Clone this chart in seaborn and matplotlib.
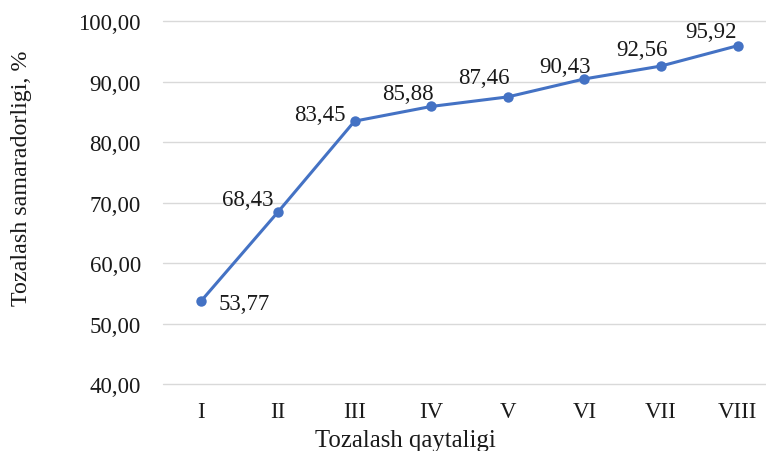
import matplotlib
matplotlib.use("Agg")
import matplotlib.pyplot as plt
import seaborn as sns
import pandas as pd

# Cleaning repetition stages and the corresponding efficiency, %
stages = ["I", "II", "III", "IV", "V", "VI", "VII", "VIII"]
efficiency = [53.77, 68.43, 83.45, 85.88, 87.46, 90.43, 92.56, 95.92]
y_ticks = [40, 50, 60, 70, 80, 90, 100]

# Offsets (points) of each value label from its marker
label_offsets = [(31, -2), (-22, 9), (-25, 5), (-17, 9), (-17, 14), (-14, 9), (-14, 12), (-19, 10)]

sns.set_theme(style="white")
plt.rcParams["font.family"] = ["Liberation Serif", "DejaVu Serif"]

df = pd.DataFrame({"stage": stages, "eff": efficiency})

fig = plt.figure(figsize=(7.66, 4.52), dpi=100)
ax = fig.add_axes([0.2128, 0.148, 0.7872, 0.8033])

blue = "#4472C4"
text_col = "#1a1a1a"
fs = 16.5

sns.lineplot(data=df, x="stage", y="eff", ax=ax, color=blue, linewidth=2.2,
             marker="o", markersize=7.5, markeredgewidth=0, sort=False, zorder=3)

ax.set_ylim(40, 100)
ax.set_xlim(-0.5, 7.37)
ax.set_yticks(y_ticks)
ax.set_yticklabels([f"{v:.2f}".replace(".", ",") for v in y_ticks])
ax.yaxis.grid(True, color="#D9D9D9", linewidth=1.0)
for gl in ax.get_ygridlines():
    gl.set_clip_on(False)
ax.xaxis.grid(False)
ax.set_axisbelow(True)
for s in ax.spines.values():
    s.set_visible(False)
ax.tick_params(axis="both", length=0, labelsize=fs, colors=text_col)
ax.tick_params(axis="y", pad=16)
ax.tick_params(axis="x", pad=12)

for i, (v, off) in enumerate(zip(efficiency, label_offsets)):
    ax.annotate(f"{v:.2f}".replace(".", ","), xy=(i, v), xytext=off,
                textcoords="offset points", ha="center", va="center",
                fontsize=fs, color=text_col, zorder=4)

ax.set_xlabel("")
ax.set_ylabel("")
fig.text(405 / 766, 1 - 441 / 452, "Tozalash qaytaligi", ha="center", va="center",
         fontsize=17.8, color=text_col)
fig.text(22 / 766, 1 - 178 / 452, "Tozalash samaradorligi, %", ha="center", va="center",
         rotation=90, fontsize=17.3, color=text_col)

fig.savefig("out.png", dpi=100)
